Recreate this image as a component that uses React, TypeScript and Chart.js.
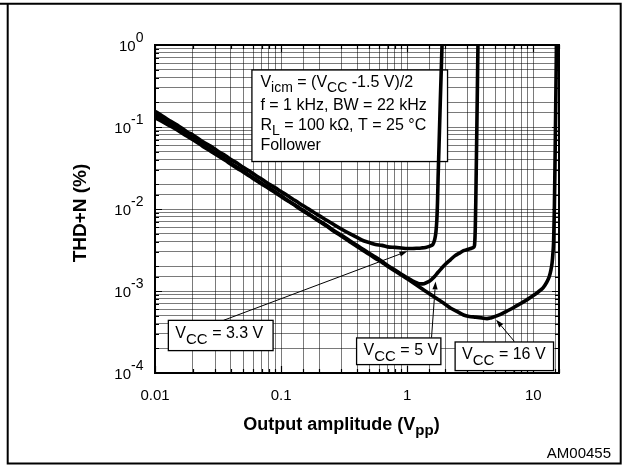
import React, { useEffect, useRef } from "react";
import { Chart, registerables } from "chart.js";

Chart.register(...registerables);

const FONT = '"Liberation Sans", Arial, Helvetica, sans-serif';
const INK = "#000000";
const GRID = "rgba(0,0,0,0.52)";

// Axis ranges
const X_MIN = 0.01;
const X_MAX = 16;
const Y_MIN = 1e-4;
const Y_MAX = 1;

// Tick labels
const xTickValues = [0.01, 0.1, 1, 10];
const xTickLabels = ["0.01", "0.1", "1", "10"];
const yTickValues = [1, 0.1, 0.01, 0.001, 0.0001];
const yTickExponents = ["0", "-1", "-2", "-3", "-4"];

// THD+N (%) versus output amplitude (Vpp), one curve per supply voltage
const vcc33X = [
  0.01, 0.011, 0.013, 0.015, 0.018, 0.02, 0.024, 0.028, 0.032, 0.036, 0.04, 0.045, 0.05, 0.056,
  0.063, 0.07, 0.08, 0.09, 0.1, 0.11, 0.125, 0.14, 0.16, 0.18, 0.2, 0.23, 0.26, 0.3, 0.35, 0.4,
  0.45, 0.5, 0.56, 0.63, 0.7, 0.8, 0.9, 1.0, 1.1, 1.2, 1.3, 1.4, 1.5, 1.56, 1.6, 1.65, 1.69, 1.72,
  1.74, 1.76, 1.79, 1.83, 1.9,
];
const vcc33Y = [
  0.155, 0.142, 0.12, 0.106, 0.087, 0.08, 0.066, 0.058, 0.05, 0.045, 0.04, 0.0362, 0.0322, 0.029,
  0.0256, 0.0232, 0.0201, 0.0181, 0.0163, 0.0149, 0.0131, 0.0117, 0.0103, 0.0092, 0.0083, 0.0073,
  0.0065, 0.0057, 0.005, 0.0045, 0.0041, 0.0039, 0.0037, 0.0036, 0.00345, 0.0034, 0.00335, 0.0033,
  0.0033, 0.00332, 0.00335, 0.0034, 0.0035, 0.0036, 0.0037, 0.0042, 0.0052, 0.0075, 0.012, 0.025,
  0.06, 0.2, 1.3,
];

const vcc5X = [
  0.01, 0.011, 0.013, 0.015, 0.018, 0.02, 0.024, 0.028, 0.032, 0.036, 0.04, 0.045, 0.05, 0.056,
  0.063, 0.07, 0.08, 0.09, 0.1, 0.11, 0.125, 0.14, 0.16, 0.18, 0.2, 0.23, 0.26, 0.3, 0.35, 0.4,
  0.45, 0.5, 0.56, 0.63, 0.7, 0.8, 0.9, 1.0, 1.1, 1.2, 1.28, 1.36, 1.45, 1.55, 1.65, 1.75, 1.85,
  2.0, 2.2, 2.4, 2.6, 2.8, 3.0, 3.2, 3.35, 3.42, 3.45, 3.47, 3.5, 3.53, 3.57, 3.65,
];
const vcc5Y = [
  0.142, 0.131, 0.112, 0.097, 0.081, 0.073, 0.061, 0.052, 0.0455, 0.0405, 0.0362, 0.0322, 0.029,
  0.0258, 0.023, 0.0206, 0.0181, 0.0161, 0.0145, 0.0131, 0.0115, 0.0103, 0.009, 0.008, 0.0072,
  0.0063, 0.0055, 0.0048, 0.0041, 0.0036, 0.0032, 0.00288, 0.0026, 0.0023, 0.00205, 0.0018, 0.0016,
  0.00145, 0.00133, 0.00125, 0.00122, 0.00123, 0.00128, 0.00137, 0.0015, 0.00168, 0.00185, 0.0021,
  0.0024, 0.0027, 0.0029, 0.0031, 0.0032, 0.0033, 0.0034, 0.0036, 0.0045, 0.006, 0.012, 0.03, 0.1,
  1.3,
];

const vcc16X = [
  0.01, 0.011, 0.013, 0.015, 0.018, 0.02, 0.024, 0.028, 0.032, 0.036, 0.04, 0.045, 0.05, 0.056,
  0.063, 0.07, 0.08, 0.09, 0.1, 0.11, 0.125, 0.14, 0.16, 0.18, 0.2, 0.23, 0.26, 0.3, 0.35, 0.4,
  0.45, 0.5, 0.56, 0.63, 0.7, 0.8, 0.9, 1.0, 1.1, 1.25, 1.4, 1.6, 1.8, 2.0, 2.2, 2.5, 2.8, 3.1,
  3.5, 3.9, 4.3, 4.6, 5.0, 5.5, 6.2, 7.0, 8.0, 9.0, 10, 11, 12, 12.8, 13.4, 13.8, 14.1, 14.3, 14.5,
  14.7, 14.85, 15.05, 15.3,
];
const vcc16Y = [
  0.13, 0.12, 0.104, 0.092, 0.077, 0.07, 0.058, 0.05, 0.044, 0.0392, 0.0352, 0.0313, 0.0283, 0.0252,
  0.0225, 0.0202, 0.0178, 0.0158, 0.0142, 0.0129, 0.0114, 0.0101, 0.0089, 0.0079, 0.0071, 0.0062,
  0.0054, 0.0047, 0.004, 0.0035, 0.0031, 0.0028, 0.0025, 0.00225, 0.002, 0.00175, 0.00157, 0.00141,
  0.00128, 0.00112, 0.00099, 0.00087, 0.00077, 0.00069, 0.00062, 0.00056, 0.00051, 0.00049,
  0.00048, 0.00047, 0.00046, 0.00047, 0.00049, 0.00052, 0.00057, 0.00063, 0.00071, 0.00079,
  0.00088, 0.00098, 0.0011, 0.00128, 0.0015, 0.0018, 0.0022, 0.0028, 0.004, 0.01, 0.03, 0.15, 1.3,
];

const seriesLabels = ["VCC = 3.3 V", "VCC = 5 V", "VCC = 16 V"];

// Callout boxes: [left, top, right, bottom] and arrows: [tailX, tailY, tipX, tipY], in data units
const calloutValues = ["3.3 V", "5 V", "16 V"];
const calloutBoxes = [
  [0.01276, 4.385e-4, 0.0864, 1.875e-4],
  [0.397, 2.676e-4, 1.85, 1.266e-4],
  [2.4, 2.39e-4, 14.48, 1.07e-4],
];
const calloutArrows = [
  [0.0349, 4.385e-4, 1.005, 0.00305],
  [1.56, 2.7e-4, 1.68, 0.00131],
  [7.08, 2.43e-4, 5.07, 4.47e-4],
];

// Test-condition box [left, top, right, bottom], in data units
const conditionBox = [0.0587, 0.496, 2.09, 0.0379];

type Run = { text: string; kind?: "sub" | "sup" };
type RunStyle = {
  size: number;
  small: number;
  subShift: number;
  supShift: number;
  weight?: string;
  align?: "left" | "center" | "right";
};

function runsWidth(ctx: CanvasRenderingContext2D, runs: Run[], s: RunStyle) {
  let w = 0;
  for (const r of runs) {
    ctx.font = `${s.weight ?? "normal"} ${r.kind ? s.small : s.size}px ${FONT}`;
    w += ctx.measureText(r.text).width;
  }
  return w;
}

function drawRuns(ctx: CanvasRenderingContext2D, runs: Run[], x: number, y: number, s: RunStyle) {
  const w = runsWidth(ctx, runs, s);
  let cx = s.align === "center" ? x - w / 2 : s.align === "right" ? x - w : x;
  ctx.textAlign = "left";
  ctx.textBaseline = "alphabetic";
  ctx.fillStyle = INK;
  for (const r of runs) {
    ctx.font = `${s.weight ?? "normal"} ${r.kind ? s.small : s.size}px ${FONT}`;
    const dy = r.kind === "sub" ? s.subShift : r.kind === "sup" ? -s.supShift : 0;
    ctx.fillText(r.text, cx, y + dy);
    cx += ctx.measureText(r.text).width;
  }
}

function drawArrow(ctx: CanvasRenderingContext2D, x0: number, y0: number, x1: number, y1: number) {
  const ang = Math.atan2(y1 - y0, x1 - x0);
  const len = 8;
  const half = 2.6;
  const bx = x1 - len * Math.cos(ang);
  const by = y1 - len * Math.sin(ang);
  ctx.beginPath();
  ctx.moveTo(x0, y0);
  ctx.lineTo(bx, by);
  ctx.lineWidth = 1;
  ctx.strokeStyle = INK;
  ctx.stroke();
  ctx.beginPath();
  ctx.moveTo(x1, y1);
  ctx.lineTo(bx + half * Math.sin(ang), by - half * Math.cos(ang));
  ctx.lineTo(bx - half * Math.sin(ang), by + half * Math.cos(ang));
  ctx.closePath();
  ctx.fillStyle = INK;
  ctx.fill();
}

const decorations = {
  id: "thdDecorations",
  beforeDatasetsDraw(chart: Chart) {
    const { ctx } = chart;
    const xs = chart.scales.x;
    const ys = chart.scales.y;
    const l = xs.getPixelForValue(conditionBox[0]);
    const t = ys.getPixelForValue(conditionBox[1]);
    const r = xs.getPixelForValue(conditionBox[2]);
    const b = ys.getPixelForValue(conditionBox[3]);
    ctx.save();
    ctx.fillStyle = "#ffffff";
    ctx.fillRect(l, t, r - l, b - t);
    ctx.strokeStyle = INK;
    ctx.lineWidth = 1.3;
    ctx.strokeRect(l, t, r - l, b - t);
    const st: RunStyle = { size: 16, small: 14, subShift: 5, supShift: 0 };
    const tx = l + 8.5;
    drawRuns(
      ctx,
      [
        { text: "V" },
        { text: "icm", kind: "sub" },
        { text: " = (V" },
        { text: "CC", kind: "sub" },
        { text: " -1.5 V)/2" },
      ],
      tx,
      t + 17.5,
      st
    );
    drawRuns(ctx, [{ text: "f = 1 kHz, BW = 22 kHz" }], tx, t + 40, st);
    drawRuns(ctx, [{ text: "R" }, { text: "L", kind: "sub" }, { text: " = 100 k\u03A9, T = 25 \u00B0C" }], tx, t + 60.5, st);
    drawRuns(ctx, [{ text: "Follower" }], tx, t + 80.5, st);
    ctx.restore();
  },
  afterDatasetsDraw(chart: Chart) {
    const { ctx, chartArea: a } = chart;
    const xs = chart.scales.x;
    const ys = chart.scales.y;
    ctx.save();

    // plot frame
    ctx.strokeStyle = INK;
    ctx.lineWidth = 2;
    ctx.strokeRect(a.left, a.top, a.right - a.left, a.bottom - a.top);

    // inward ticks on all four sides
    ctx.lineWidth = 1.2;
    ctx.beginPath();
    for (const tk of xs.ticks) {
      const px = Math.round(xs.getPixelForValue(tk.value)) + 0.5;
      const major = xTickValues.some((v) => Math.abs(Math.log10(v) - Math.log10(tk.value)) < 1e-6);
      const len = major ? 7 : 4;
      ctx.moveTo(px, a.bottom);
      ctx.lineTo(px, a.bottom - len);
      ctx.moveTo(px, a.top);
      ctx.lineTo(px, a.top + len);
    }
    for (const tk of ys.ticks) {
      const py = Math.round(ys.getPixelForValue(tk.value)) + 0.5;
      const major = yTickValues.some((v) => Math.abs(Math.log10(v) - Math.log10(tk.value)) < 1e-6);
      const len = major ? 7 : 4;
      ctx.moveTo(a.left, py);
      ctx.lineTo(a.left + len, py);
      ctx.moveTo(a.right, py);
      ctx.lineTo(a.right - len, py);
    }
    ctx.stroke();

    // callout boxes and arrows
    for (let i = 0; i < calloutBoxes.length; i++) {
      const [x0, y0, x1, y1] = calloutBoxes[i];
      const l = xs.getPixelForValue(x0);
      const t = ys.getPixelForValue(y0);
      const r = xs.getPixelForValue(x1);
      const b = ys.getPixelForValue(y1);
      ctx.fillStyle = "#ffffff";
      ctx.fillRect(l, t, r - l, b - t);
      ctx.strokeStyle = INK;
      ctx.lineWidth = 1.3;
      ctx.strokeRect(l, t, r - l, b - t);
      drawRuns(
        ctx,
        [{ text: "V" }, { text: "CC", kind: "sub" }, { text: " = " + calloutValues[i] }],
        l + 7,
        t + 17.5,
        { size: 16, small: 15, subShift: 6, supShift: 0 }
      );
      const [ax, ay, bx, by] = calloutArrows[i];
      drawArrow(ctx, xs.getPixelForValue(ax), ys.getPixelForValue(ay), xs.getPixelForValue(bx), ys.getPixelForValue(by));
    }

    // x tick labels
    ctx.fillStyle = INK;
    ctx.font = `15px ${FONT}`;
    ctx.textAlign = "center";
    ctx.textBaseline = "alphabetic";
    xTickValues.forEach((v, i) => {
      ctx.fillText(xTickLabels[i], xs.getPixelForValue(v), a.bottom + 26.5);
    });

    // y tick labels as powers of ten
    yTickValues.forEach((v, i) => {
      const py = ys.getPixelForValue(v);
      drawRuns(ctx, [{ text: "10" }, { text: yTickExponents[i], kind: "sup" }], a.left - 11.5, py + 6, {
        size: 15,
        small: 14,
        subShift: 0,
        supShift: 9,
        align: "right",
      });
    });

    // axis titles
    drawRuns(
      ctx,
      [{ text: "Output amplitude (V" }, { text: "pp", kind: "sub" }, { text: ")" }],
      341.5,
      a.bottom + 57,
      { size: 18, small: 15, subShift: 5, supShift: 0, weight: "bold", align: "center" }
    );
    ctx.save();
    ctx.translate(80.5, 213);
    ctx.rotate(-Math.PI / 2);
    ctx.font = `bold 19px ${FONT}`;
    ctx.textAlign = "center";
    ctx.textBaseline = "middle";
    ctx.fillText("THD+N (%)", 0, 0);
    ctx.restore();

    // figure code and outer frame
    ctx.font = `15px ${FONT}`;
    ctx.textAlign = "right";
    ctx.textBaseline = "alphabetic";
    ctx.fillText("AM00455", 611, 457.5);

    ctx.strokeStyle = INK;
    ctx.lineWidth = 2;
    ctx.beginPath();
    ctx.moveTo(0, 3.7);
    ctx.lineTo(620.7, 3.7);
    ctx.lineTo(620.7, 463.5);
    ctx.lineTo(7.7, 463.5);
    ctx.lineTo(7.7, 3.7);
    ctx.stroke();

    ctx.restore();
  },
};

function toPoints(xs: number[], ys: number[]) {
  return xs.map((x, i) => ({ x, y: ys[i] }));
}

export default function App() {
  const canvasRef = useRef<HTMLCanvasElement | null>(null);

  useEffect(() => {
    const canvas = canvasRef.current;
    if (!canvas) return;
    const series = [
      toPoints(vcc33X, vcc33Y),
      toPoints(vcc5X, vcc5Y),
      toPoints(vcc16X, vcc16Y),
    ];
    const chart = new Chart(canvas, {
      type: "line",
      data: {
        datasets: series.map((data, i) => ({
          label: seriesLabels[i],
          data,
          borderColor: INK,
          borderWidth: 3.6,
          pointRadius: 0,
          fill: false,
          cubicInterpolationMode: "monotone" as const,
          borderJoinStyle: "round" as const,
          borderCapStyle: "round" as const,
        })),
      },
      options: {
        animation: false,
        responsive: false,
        devicePixelRatio: 1,
        layout: { padding: { left: 0, right: 63, top: 45, bottom: 0 } },
        plugins: {
          legend: { display: false },
          title: { display: false },
          tooltip: { enabled: false },
        },
        scales: {
          x: {
            type: "logarithmic",
            min: X_MIN,
            max: X_MAX,
            ticks: { display: false },
            grid: { color: GRID, lineWidth: 1, drawTicks: false },
            border: { display: false },
            afterFit: (s: any) => {
              s.height = 92;
            },
          },
          y: {
            type: "logarithmic",
            min: Y_MIN,
            max: Y_MAX,
            ticks: { display: false },
            grid: { color: GRID, lineWidth: 1, drawTicks: false },
            border: { display: false },
            afterFit: (s: any) => {
              s.width = 155;
            },
          },
        },
      },
      plugins: [decorations as any],
    });
    return () => chart.destroy();
  }, []);

  return (
    <div style={{ position: "absolute", left: 0, top: 0, width: 622, height: 465, background: "#ffffff" }}>
      <canvas ref={canvasRef} width={622} height={465} />
    </div>
  );
}
